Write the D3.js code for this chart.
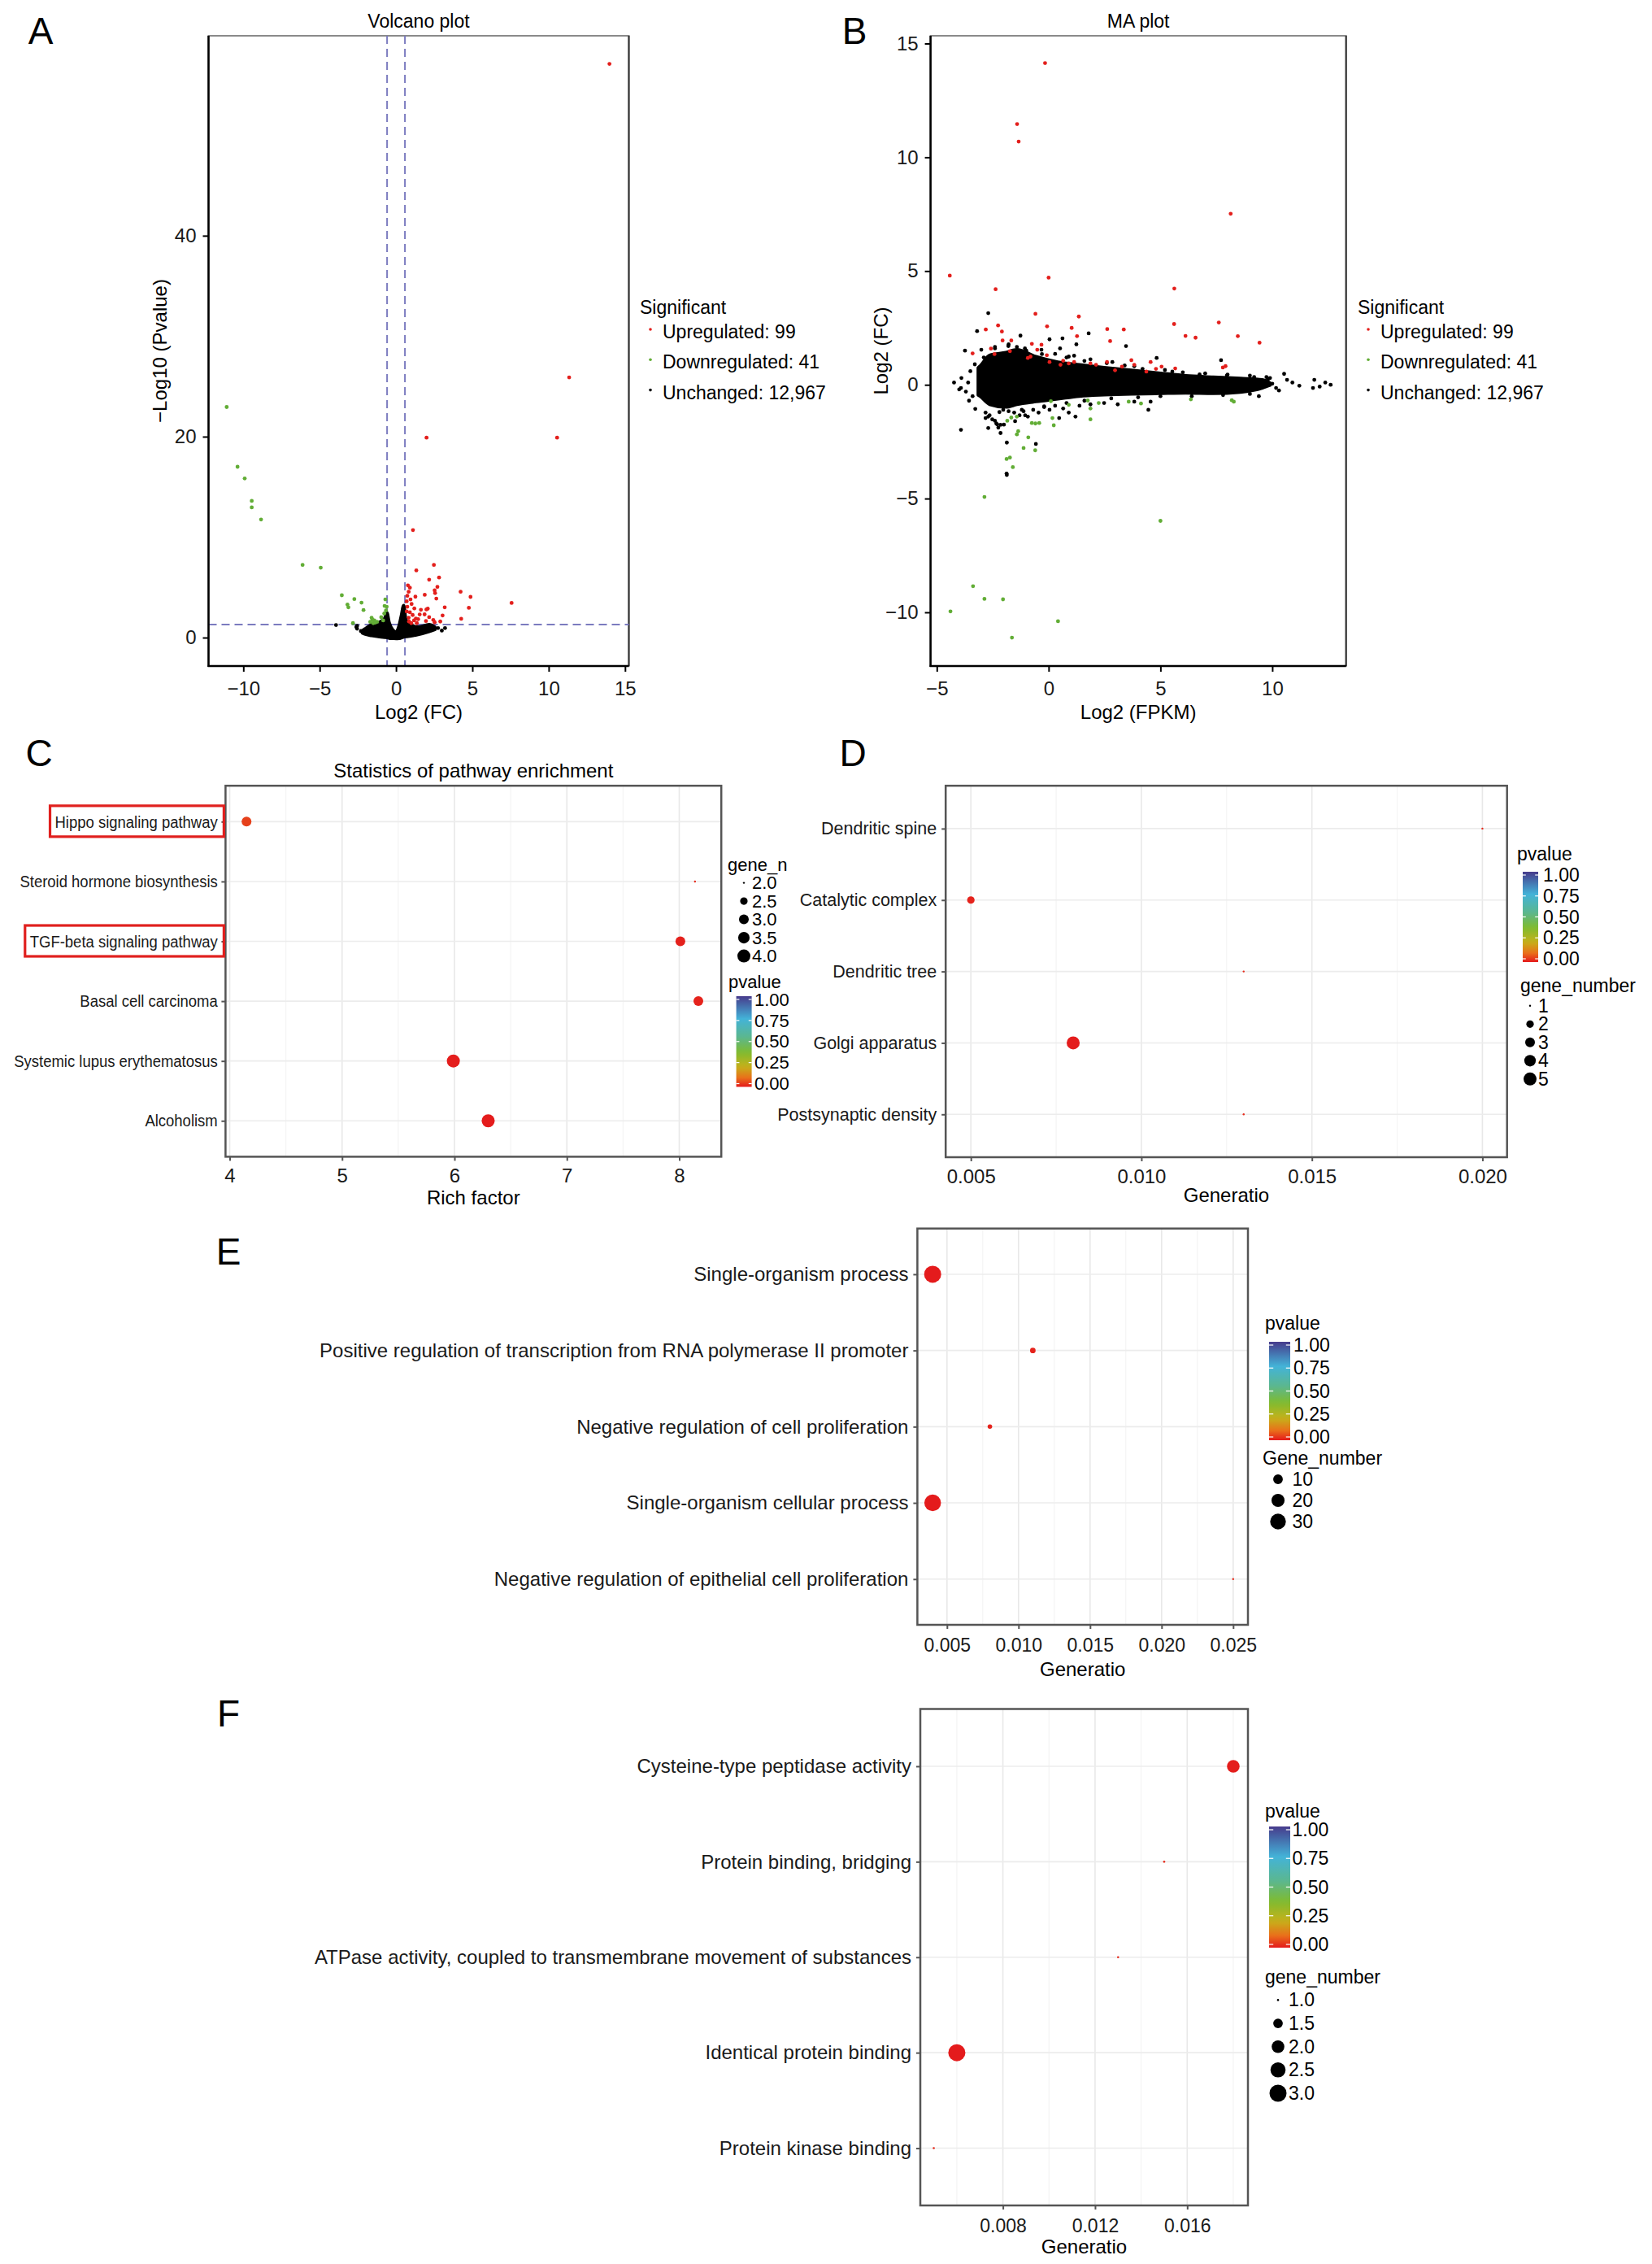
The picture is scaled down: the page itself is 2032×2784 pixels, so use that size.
<!DOCTYPE html>
<html>
<head>
<meta charset="utf-8">
<script src="https://cdn.jsdelivr.net/npm/d3@7"></script>
<style>
  body { margin: 0; background: #fff; }
  svg { font-family: "Liberation Sans", Arial, Helvetica, sans-serif; }
</style>
</head>
<body>
<script>
// ---------- data ----------
var sigLabels = ["Upregulated: 99", "Downregulated: 41", "Unchanged: 12,967"];

// volcano plot: [log2FC, -log10 p]
var volcanoUp = [[13.98,57.1],[11.34,25.9],[10.55,19.9],[2.0,19.9],[1.11,10.7],[1.33,6.69],[2.48,7.23],[2.82,5.98],[2.17,5.76],[2.71,5.05],[2.53,4.70],[2.56,4.43],[1.88,4.26],[2.64,3.88],[4.23,4.56],[4.88,4.05],[4.77,2.96],[4.27,1.87],[3.19,3.01],[3.05,2.20],[2.08,2.88],[1.99,2.80],[1.63,2.77],[1.87,2.31],[2.17,2.03],[1.96,1.65],[2.44,1.76],[2.53,1.52],[1.27,4.07],[1.02,3.34],[1.09,2.25],[0.91,4.97],[0.83,4.56],[0.74,4.16],[0.70,3.61],[0.74,3.07],[0.91,2.52],[0.83,1.98],[1.18,1.71],[1.45,1.84],[1.00,1.44],[1.36,1.44],[7.57,3.45],[0.78,5.2],[0.95,3.8],[1.2,2.9],[0.7,2.6],[1.55,2.3],[1.3,1.9],[0.85,1.6],[2.9,1.6]];
var volcanoDown = [[-11.09,22.95],[-10.38,17.0],[-9.91,15.84],[-9.45,13.61],[-9.45,12.96],[-8.84,11.75],[-6.12,7.23],[-4.93,6.96],[-3.55,4.21],[-2.73,3.83],[-3.18,3.29],[-3.12,3.01],[-2.26,3.48],[-2.13,2.74],[-2.82,1.44],[-1.60,1.98],[-1.42,1.71],[-1.69,1.57],[-1.24,1.57],[-0.97,2.03],[-0.70,3.80],[-0.75,3.15],[-0.61,3.07],[-0.77,2.39],[-0.84,1.71],[-1.49,1.44],[-1.55,1.8],[-1.35,1.5],[-0.66,2.7]];
var volcanoFlat = [[-3.93,1.25],[-2.55,1.16],[-2.55,0.89],[3.21,0.95],[-2.3,0.65],[2.75,0.95],[-1.9,0.9],[2.3,1.1],[-2.6,1.05],[3.0,0.7]];
// outline of the dense cloud of unchanged genes: [x, low, high]
var volcanoCloud = [[-2.2,0.45,0.7],[-2.05,0.35,0.85],[-1.6,0.2,1.3],[-1.06,0.08,1.55],[-0.75,0.02,1.9],[-0.6,0.0,2.5],[-0.45,-0.05,1.5],[-0.2,-0.08,0.75],[0.0,-0.1,0.55],[0.2,-0.08,1.2],[0.35,-0.02,2.2],[0.5,0.05,3.2],[0.65,0.1,1.8],[0.9,0.15,1.4],[1.45,0.3,1.05],[2.17,0.6,1.3],[2.55,0.8,1.05]];
var volcanoCut = [-0.585, 0.585, 1.301];

// MA plot: [log2 FPKM, log2FC]
var maUp = [[-0.16,14.14],[-1.41,11.46],[-1.34,10.69],[8.14,7.52],[-4.42,4.80],[0.0,4.71],[-2.37,4.20],[5.62,4.23],[-0.59,3.12],[1.35,3.0],[5.61,2.67],[7.61,2.74],[-2.26,2.61],[-2.81,2.43],[-2.09,2.34],[-0.07,2.57],[1.03,2.50],[2.62,2.45],[3.36,2.43],[1.27,2.14],[6.12,2.15],[6.57,2.07],[8.46,2.14],[9.43,1.85],[2.75,1.92],[-2.06,1.95],[-1.67,1.95],[-2.58,1.59],[-3.40,1.38],[-2.42,1.35],[-1.73,1.48],[-0.75,1.80],[-0.32,1.76],[-0.51,1.54],[-0.93,1.18],[-0.81,1.24],[-0.08,1.30],[0.65,1.06],[0.90,0.94],[1.14,1.0],[0.53,0.88],[2.12,0.88],[2.61,1.0],[3.28,0.80],[3.70,1.08],[3.83,0.88],[4.56,1.0],[4.80,0.70],[5.05,0.80],[5.66,0.72],[7.79,0.76],[7.91,0.82],[1.87,0.94],[0.04,1.0],[2.97,0.64],[4.37,0.58]];
var maDown = [[-2.87,-4.93],[5.0,-5.98],[-3.38,-8.85],[-2.87,-9.41],[-2.04,-9.43],[-4.39,-9.96],[0.42,-10.39],[-1.64,-11.11],[-1.88,-3.26],[-1.73,-3.2],[-1.60,-3.62],[-1.12,-2.78],[-0.91,-2.31],[-0.60,-2.88],[-1.42,-2.18],[-1.36,-2.04],[-1.85,-1.58],[-1.67,-1.44],[-1.42,-1.40],[-0.75,-1.68],[-0.59,-1.70],[-0.42,-1.68],[0.17,-1.46],[0.23,-1.78],[0.10,-0.72],[0.90,-0.88],[1.75,-0.69],[1.87,-1.04],[1.87,-1.52],[2.24,-0.80],[3.58,-0.74],[4.13,-0.82],[6.36,-0.64],[8.19,-0.68],[8.28,-0.74]];
var maFlat = [[-2.70,3.15],[-3.20,2.36],[-3.74,1.50],[-1.26,2.16],[0.04,2.0],[0.62,2.04],[1.24,1.78],[1.79,2.26],[3.46,1.70],[0.51,1.60],[1.14,1.28],[4.83,1.18],[7.71,1.08],[-3.92,-1.98],[-1.87,-2.54],[-1.87,-3.96],[-0.57,-2.60],[-2.15,-2.12],[4.46,-1.10],[1.20,-1.40],[0.47,-1.46],[-1.05,-1.34],[-2.64,-1.34],[-2.82,-1.46],[-2.30,-1.74],[-2.40,-1.58],[-4.23,0.10],[-3.92,-0.14],[-3.56,-0.70],[-3.28,-1.06],[10.53,0.48],[10.66,0.22],[10.9,0.10],[11.21,-0.04],[11.88,0.22],[11.82,-0.14],[12.12,-0.08],[12.37,0.10],[12.61,0.0],[10.17,-0.14],[9.74,0.34],[-1.88,-3.90],[-3.9,0.3],[-3.7,-0.3],[-3.5,0.6],[-3.4,-0.5],[-4.0,-0.2],[-3.6,0.1],[-2.4,1.6],[-1.8,1.7],[-1.0,1.5],[-0.3,1.35],[0.8,1.2],[1.6,1.05],[2.6,0.95],[3.4,0.85],[4.2,0.7],[5.2,0.65],[6.0,0.55],[7.0,0.5],[8.0,0.45],[9.0,0.4],[-2.2,-1.2],[-1.2,-1.1],[-0.2,-0.95],[0.8,-0.8],[1.6,-0.7],[2.8,-0.6],[4.0,-0.55],[5.0,-0.5],[6.4,-0.5],[7.8,-0.45],[9.0,-0.4],[9.4,-0.5],[10.0,0.05],[10.3,-0.25],[9.9,0.3],[-2.0,-1.75],[-1.5,-1.6],[-2.7,-1.9],[-3.3,0.9],[-2.9,1.2],
  [-2.82,-1.22],[-2.70,-1.40],[-2.52,-1.52],[-2.34,-1.70],[-2.25,-1.88],[-2.15,-1.76],[-2.03,-1.10],[-1.79,-1.16],[-1.54,-1.22],[-1.30,-1.34],[-1.12,-1.16],[-0.93,-1.40],[-0.69,-1.10],[-0.45,-1.22],[-0.20,-0.98],[0.04,-1.10],[0.29,-0.92],[0.65,-1.04],[0.90,-1.22],[1.38,-0.92],[1.87,-0.86],[2.48,-0.80],[3.09,-0.86],[3.83,-0.74],[4.56,-0.74],
  [-3.01,1.54],[-2.40,1.66],[-1.79,1.78],[-1.42,1.66],[-1.06,1.60],[-0.32,1.54],[0.29,1.36],[0.90,1.24],[1.87,1.12],[2.85,1.0],[3.83,0.82],[5.53,0.58],[6.75,0.46],[7.97,0.40],[9.19,0.34],[9.80,0.22]];
var maCloud = [[-3.15,-0.45,0.75],[-3.07,-0.5,0.82],[-2.64,-0.86,1.3],[-1.91,-0.98,1.42],[-1.42,-0.86,1.54],[-0.57,-0.74,1.24],[0.41,-0.62,1.0],[1.38,-0.5,0.88],[2.48,-0.44,0.76],[3.7,-0.4,0.64],[4.92,-0.38,0.52],[6.14,-0.36,0.4],[7.36,-0.38,0.34],[8.58,-0.32,0.28],[9.56,-0.14,0.22],[9.9,-0.02,0.08]];

// KEGG enrichment (panel C)
var keggTerms = ["Hippo signaling pathway", "Steroid hormone biosynthesis", "TGF-beta signaling pathway", "Basal cell carcinoma", "Systemic lupus erythematosus", "Alcoholism"];
var keggRich = [4.15, 8.14, 8.01, 8.17, 5.99, 6.30];
var keggGenes = [3, 2, 3, 3, 4, 4];
var keggP = [0.045, 0.02, 0.008, 0.01, 0.003, 0.002];
var keggMarked = ["Hippo signaling pathway", "TGF-beta signaling pathway"];

// GO cellular component (panel D)
var ccTerms = ["Dendritic spine", "Catalytic complex", "Dendritic tree", "Golgi apparatus", "Postsynaptic density"];
var ccRatio = [0.020, 0.005, 0.013, 0.008, 0.013];
var ccGenes = [1, 2, 1, 5, 1];
var ccP = [0.02, 0.01, 0.02, 0.002, 0.02];

// GO biological process (panel E)
var bpTerms = ["Single-organism process", "Positive regulation of transcription from RNA polymerase II promoter", "Negative regulation of cell proliferation", "Single-organism cellular process", "Negative regulation of epithelial cell proliferation"];
var bpRatio = [0.004, 0.011, 0.008, 0.004, 0.025];
var bpGenes = [36, 3, 2, 34, 1];
var bpP = [0.001, 0.01, 0.01, 0.001, 0.02];

// GO molecular function (panel F)
var mfTerms = ["Cysteine-type peptidase activity", "Protein binding, bridging", "ATPase activity, coupled to transmembrane movement of substances", "Identical protein binding", "Protein kinase binding"];
var mfRatio = [0.018, 0.015, 0.013, 0.006, 0.005];
var mfGenes = [2, 1, 1, 3, 1];
var mfP = [0.005, 0.02, 0.02, 0.001, 0.02];

var pvalueBreaks = [0, 0.25, 0.5, 0.75, 1];

// ---------- drawing ----------
var W = 2032, H = 2784;
var red = "#e31f1c", green = "#62ad36";

var pColor = d3.scaleLinear()
  .domain([0, 0.1, 0.22, 0.38, 0.55, 0.75, 1])
  .range(["#e41a1c", "#e9701a", "#c6b11a", "#7fbb2f", "#5bb78f", "#43b3d8", "#473b8c"]);

var svg = d3.select("body").append("svg")
  .attr("width", W)
  .attr("height", H)
  .style("background", "#fff");

var defs = svg.append("defs");

function styleAxis(sel, fs, col) {
  sel.attr("font-family", null).attr("font-size", null);
  sel.select(".domain").remove();
  sel.selectAll(".tick line").attr("stroke", col).attr("stroke-width", 2);
  sel.selectAll(".tick text").attr("font-size", fs).attr("fill", "#1a1a1a");
}

function letter(t, x, y) {
  svg.append("text").attr("x", x).attr("y", y).attr("font-size", 46)
    .attr("text-anchor", "middle").text(t);
}

// volcano / MA scatter
function scatterPanel(o) {
  var x = d3.scaleLinear().domain(o.xDomain).range([o.left, o.right]);
  var y = d3.scaleLinear().domain(o.yDomain).range([o.bottom, o.top]);
  var g = svg.append("g");

  g.append("rect")
    .attr("x", o.left).attr("y", o.top)
    .attr("width", o.right - o.left).attr("height", o.bottom - o.top)
    .attr("fill", "#fff").attr("stroke", "#8a8a8a").attr("stroke-width", 2);
  g.append("line").attr("x1", o.right).attr("x2", o.right).attr("y1", o.top).attr("y2", o.bottom)
    .attr("stroke", "#333").attr("stroke-width", 2);

  if (o.cuts) {
    [o.cuts[0], o.cuts[1]].forEach(function(c) {
      g.append("line").attr("x1", x(c)).attr("x2", x(c)).attr("y1", o.top).attr("y2", o.bottom)
        .attr("stroke", "#7b7bbf").attr("stroke-width", 2).attr("stroke-dasharray", "10,6");
    });
    g.append("line").attr("x1", o.left).attr("x2", o.right).attr("y1", y(o.cuts[2])).attr("y2", y(o.cuts[2]))
      .attr("stroke", "#7b7bbf").attr("stroke-width", 2).attr("stroke-dasharray", "10,6");
  }

  var area = d3.area()
    .x(function(d) { return x(d[0]); })
    .y0(function(d) { return y(d[1]); })
    .y1(function(d) { return y(d[2]); })
    .curve(d3.curveMonotoneX);
  g.append("path").datum(o.cloud).attr("d", area)
    .attr("fill", "#000").attr("stroke", "#000").attr("stroke-width", 4).attr("stroke-linejoin", "round");

  function pts(data, col) {
    g.append("g").selectAll("circle").data(data).enter().append("circle")
      .attr("cx", function(d) { return x(d[0]); })
      .attr("cy", function(d) { return y(d[1]); })
      .attr("r", 2.4)
      .attr("fill", col);
  }
  pts(o.flat, "#000");
  pts(o.down, green);
  pts(o.up, red);

  var xa = g.append("g").attr("transform", "translate(0," + o.bottom + ")")
    .call(d3.axisBottom(x).tickValues(o.xTicks).tickSize(7).tickPadding(12));
  styleAxis(xa, 24, "#000");
  var ya = g.append("g").attr("transform", "translate(" + o.left + ",0)")
    .call(d3.axisLeft(y).tickValues(o.yTicks).tickSize(7).tickPadding(8));
  styleAxis(ya, 24, "#000");
  g.append("line").attr("x1", o.left).attr("x2", o.left).attr("y1", o.top).attr("y2", o.bottom + 1)
    .attr("stroke", "#000").attr("stroke-width", 2.5);
  g.append("line").attr("x1", o.left - 1).attr("x2", o.right).attr("y1", o.bottom).attr("y2", o.bottom)
    .attr("stroke", "#000").attr("stroke-width", 2.5);

  g.append("text").attr("x", (o.left + o.right) / 2).attr("y", 34).attr("text-anchor", "middle")
    .attr("font-size", 23).text(o.title);
  g.append("text").attr("x", (o.left + o.right) / 2).attr("y", 884).attr("text-anchor", "middle")
    .attr("font-size", 24).text(o.xLabel);
  g.append("text").attr("transform", "translate(" + o.yLabelX + "," + (o.top + o.bottom) / 2 + ") rotate(-90)")
    .attr("text-anchor", "middle").attr("dy", "0.35em").attr("font-size", 24).text(o.yLabel);

  // legend
  var lg = g.append("g");
  lg.append("text").attr("x", o.legX).attr("y", 378).attr("dy", "0.35em").attr("font-size", 23).text("Significant");
  var cols = [red, green, "#000"];
  sigLabels.forEach(function(s, i) {
    var cy = 408 + i * 37.3;
    lg.append("circle").attr("cx", o.legX + 13).attr("cy", cy - 3).attr("r", 1.8).attr("fill", cols[i]);
    lg.append("text").attr("x", o.legX + 28).attr("y", cy).attr("dy", "0.35em").attr("font-size", 23).text(s);
  });
}

function sizeScale(domain, rr) {
  var t = d3.scaleLinear().domain(domain).range([0, 1]).clamp(true);
  return function(v) { return rr[0] + (rr[1] - rr[0]) * Math.sqrt(t(v)); };
}

var gradCount = 0;
function colorbar(g, o) {
  var id = "pgrad" + (gradCount++);
  var grad = defs.append("linearGradient").attr("id", id)
    .attr("x1", 0).attr("y1", 1).attr("x2", 0).attr("y2", 0);
  d3.range(0, 1.0001, 0.05).forEach(function(v) {
    grad.append("stop").attr("offset", v).attr("stop-color", pColor(v));
  });
  var py = d3.scaleLinear().domain([0, 1]).range([o.y0, o.y1]);
  g.append("text").attr("x", o.titleX).attr("y", o.titleY).attr("dy", "0.35em").attr("font-size", o.fs).text("pvalue");
  g.append("rect").attr("x", o.x).attr("y", o.y1 - 4).attr("width", o.w).attr("height", o.y0 - o.y1 + 8)
    .attr("fill", "url(#" + id + ")");
  pvalueBreaks.forEach(function(b) {
    g.append("line").attr("x1", o.x).attr("x2", o.x + o.w * 0.2).attr("y1", py(b)).attr("y2", py(b))
      .attr("stroke", "#fff").attr("stroke-width", 1.2);
    g.append("line").attr("x1", o.x + o.w * 0.8).attr("x2", o.x + o.w).attr("y1", py(b)).attr("y2", py(b))
      .attr("stroke", "#fff").attr("stroke-width", 1.2);
    g.append("text").attr("x", o.labelX).attr("y", py(b)).attr("dy", "0.35em").attr("font-size", o.fs)
      .text(d3.format(".2f")(b));
  });
}

function sizeLegend(g, o, r) {
  g.append("text").attr("x", o.titleX).attr("y", o.titleY).attr("dy", "0.35em").attr("font-size", o.fs).text(o.title);
  o.breaks.forEach(function(b, i) {
    var cy = o.y + i * o.step;
    g.append("circle").attr("cx", o.dotX).attr("cy", cy).attr("r", r(b)).attr("fill", "#000");
    g.append("text").attr("x", o.labelX).attr("y", cy).attr("dy", "0.35em").attr("font-size", o.fs).text(o.fmt(b));
  });
}

function bubblePanel(o) {
  var x = d3.scaleLinear().domain(o.xDomain).range([o.left, o.right]);
  var y = d3.scalePoint().domain(o.terms).range([o.top, o.bottom]).padding(0.6);
  var r = sizeScale(o.sizeDomain, o.rRange);
  var g = svg.append("g");

  g.append("rect").attr("x", o.left).attr("y", o.top)
    .attr("width", o.right - o.left).attr("height", o.bottom - o.top).attr("fill", "#fff");

  // grid
  var step = o.xTicks[1] - o.xTicks[0];
  var minor = d3.range(o.xTicks[0] - step / 2, o.xDomain[1], step)
    .filter(function(v) { return v > o.xDomain[0] && v < o.xDomain[1]; });
  minor.forEach(function(v) {
    g.append("line").attr("x1", x(v)).attr("x2", x(v)).attr("y1", o.top).attr("y2", o.bottom)
      .attr("stroke", "#f4f4f4").attr("stroke-width", 1.2);
  });
  o.xTicks.forEach(function(v) {
    g.append("line").attr("x1", x(v)).attr("x2", x(v)).attr("y1", o.top).attr("y2", o.bottom)
      .attr("stroke", "#e8e8e8").attr("stroke-width", 1.6);
  });
  o.terms.forEach(function(t) {
    g.append("line").attr("x1", o.left).attr("x2", o.right).attr("y1", y(t)).attr("y2", y(t))
      .attr("stroke", "#ececec").attr("stroke-width", 1.6);
  });

  g.append("g").selectAll("circle").data(o.terms).enter().append("circle")
    .attr("cx", function(d, i) { return x(o.xs[i]); })
    .attr("cy", function(d) { return y(d); })
    .attr("r", function(d, i) { return r(o.sizes[i]); })
    .attr("fill", function(d, i) { return pColor(o.ps[i]); });

  g.append("rect").attr("x", o.left).attr("y", o.top)
    .attr("width", o.right - o.left).attr("height", o.bottom - o.top)
    .attr("fill", "none").attr("stroke", "#555").attr("stroke-width", 2.5);

  var xa = g.append("g").attr("transform", "translate(0," + o.bottom + ")")
    .call(d3.axisBottom(x).tickValues(o.xTicks).tickFormat(o.xFmt).tickSize(5).tickPadding(o.xPad));
  styleAxis(xa, o.tickFs, "#555");
  var ya = g.append("g").attr("transform", "translate(" + o.left + ",0)")
    .call(d3.axisLeft(y).tickSize(5).tickPadding(6));
  styleAxis(ya, o.catFs, "#555");
  var sx = o.catScale || 1;
  if (sx !== 1) ya.selectAll(".tick text").attr("transform", "scale(" + sx + ",1)");

  if (o.marked) {
    ya.selectAll(".tick").each(function(d) {
      if (o.marked.indexOf(d) < 0) return;
      var bb = d3.select(this).select("text").node().getBBox();
      var x0 = bb.x * sx - 6;
      d3.select(this).append("rect")
        .attr("x", x0).attr("y", -20)
        .attr("width", -2 - x0).attr("height", 38)
        .attr("fill", "none").attr("stroke", "#e0201e").attr("stroke-width", 3.2);
    });
  }

  if (o.title) {
    g.append("text").attr("x", (o.left + o.right) / 2).attr("y", o.top - 10).attr("text-anchor", "middle")
      .attr("font-size", 24).text(o.title);
  }
  g.append("text").attr("x", (o.left + o.right) / 2).attr("y", o.xLabelY).attr("text-anchor", "middle")
    .attr("dy", "0.35em").attr("font-size", 24).text(o.xLabel);

  colorbar(g, o.bar);
  sizeLegend(g, o.sizeLeg, r);
}

letter("A", 50, 54);
letter("B", 1051, 54);
letter("C", 48, 942);
letter("D", 1049, 942);
letter("E", 281, 1555);
letter("F", 281, 2123);

scatterPanel({
  left: 256.5, right: 773.5, top: 44, bottom: 819,
  xDomain: [-12.28, 15.25], yDomain: [-2.83, 59.9],
  xTicks: [-10, -5, 0, 5, 10, 15], yTicks: [0, 20, 40],
  cuts: volcanoCut, cloud: volcanoCloud,
  up: volcanoUp, down: volcanoDown, flat: volcanoFlat,
  title: "Volcano plot", xLabel: "Log2 (FC)", yLabel: "\u2212Log10 (Pvalue)", yLabelX: 197,
  legX: 787
});

scatterPanel({
  left: 1144.6, right: 1655.7, top: 44, bottom: 819,
  xDomain: [-5.28, 13.3], yDomain: [-12.36, 15.34],
  xTicks: [-5, 0, 5, 10], yTicks: [-10, -5, 0, 5, 10, 15],
  cuts: null, cloud: maCloud,
  up: maUp, down: maDown, flat: maFlat,
  title: "MA plot", xLabel: "Log2 (FPKM)", yLabel: "Log2 (FC)", yLabelX: 1084,
  legX: 1670
});

bubblePanel({
  left: 277.4, right: 887.2, top: 966.2, bottom: 1422.4,
  xDomain: [3.963, 8.374], xTicks: [4, 5, 6, 7, 8], xFmt: d3.format("d"), xPad: 10,
  terms: keggTerms, xs: keggRich, sizes: keggGenes, ps: keggP, marked: keggMarked,
  sizeDomain: [2, 4], rRange: [1.2, 8],
  tickFs: 24, catFs: 21, catScale: 0.88,
  title: "Statistics of pathway enrichment", xLabel: "Rich factor", xLabelY: 1473,
  bar: { x: 905.6, w: 19, y1: 1229, y0: 1332.5, titleX: 896, titleY: 1207, labelX: 928, fs: 22 },
  sizeLeg: { title: "gene_n", titleX: 895, titleY: 1063, breaks: [2, 2.5, 3, 3.5, 4], fmt: d3.format(".1f"),
             y: 1085.6, step: 22.5, dotX: 915, labelX: 925, fs: 22 }
});

bubblePanel({
  left: 1163.2, right: 1853.7, top: 966.2, bottom: 1423,
  xDomain: [0.004261, 0.020722], xTicks: [0.005, 0.010, 0.015, 0.020], xFmt: d3.format(".3f"), xPad: 10,
  terms: ccTerms, xs: ccRatio, sizes: ccGenes, ps: ccP,
  sizeDomain: [1, 5], rRange: [1.2, 8],
  tickFs: 24, catFs: 21.5,
  title: null, xLabel: "Generatio", xLabelY: 1470,
  bar: { x: 1873, w: 19, y1: 1076, y0: 1179, titleX: 1866, titleY: 1050, labelX: 1898, fs: 23 },
  sizeLeg: { title: "gene_number", titleX: 1870, titleY: 1212, breaks: [1, 2, 3, 4, 5], fmt: d3.format("d"),
             y: 1236.8, step: 22.5, dotX: 1882, labelX: 1892, fs: 23 }
});

bubblePanel({
  left: 1128.4, right: 1535, top: 1510.7, bottom: 1998,
  xDomain: [0.002932, 0.026034], xTicks: [0.005, 0.010, 0.015, 0.020, 0.025], xFmt: d3.format(".3f"), xPad: 12,
  terms: bpTerms, xs: bpRatio, sizes: bpGenes, ps: bpP,
  sizeDomain: [1, 36], rRange: [1.2, 10.5],
  tickFs: 23, catFs: 24,
  title: null, xLabel: "Generatio", xLabelY: 2053,
  bar: { x: 1561, w: 26, y1: 1654, y0: 1767, titleX: 1556, titleY: 1627, labelX: 1591, fs: 23 },
  sizeLeg: { title: "Gene_number", titleX: 1553, titleY: 1793, breaks: [10, 20, 30], fmt: d3.format("d"),
             y: 1819, step: 26, dotX: 1572, labelX: 1589.5, fs: 23 }
});

bubblePanel({
  left: 1132, right: 1535, top: 2101.5, bottom: 2712,
  xDomain: [0.004415, 0.018636], xTicks: [0.008, 0.012, 0.016], xFmt: d3.format(".3f"), xPad: 12,
  terms: mfTerms, xs: mfRatio, sizes: mfGenes, ps: mfP,
  sizeDomain: [1, 3], rRange: [1.3, 10.5],
  tickFs: 23, catFs: 24,
  title: null, xLabel: "Generatio", xLabelY: 2763,
  bar: { x: 1561, w: 26, y1: 2250, y0: 2391, titleX: 1556, titleY: 2227, labelX: 1589.5, fs: 23 },
  sizeLeg: { title: "gene_number", titleX: 1556, titleY: 2431, breaks: [1, 1.5, 2, 2.5, 3], fmt: d3.format(".1f"),
             y: 2459.4, step: 28.65, dotX: 1572, labelX: 1585, fs: 23 }
});
</script>
</body>
</html>
